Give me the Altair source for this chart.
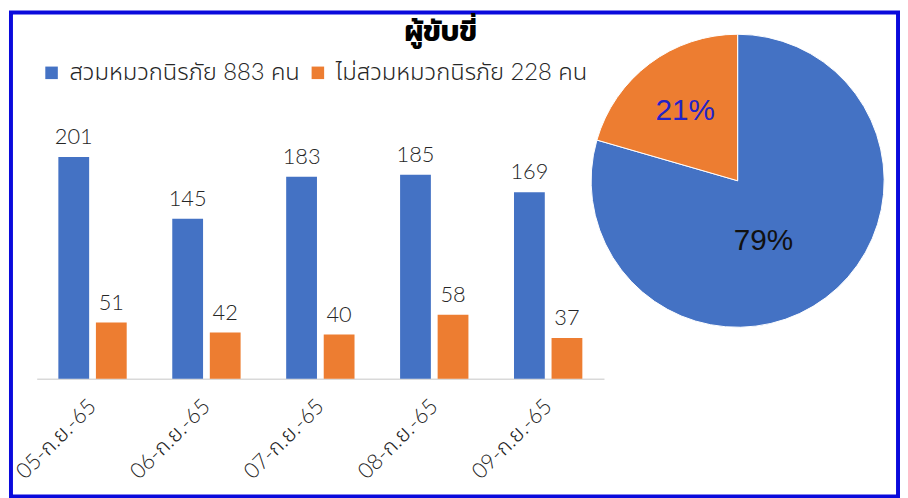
import altair as alt
import pandas as pd

# ---- data ----
dates = ["05-ก.ย.-65", "06-ก.ย.-65", "07-ก.ย.-65", "08-ก.ย.-65", "09-ก.ย.-65"]
helmet = [201, 145, 183, 185, 169]
no_helmet = [51, 42, 40, 58, 37]
series = ["สวมหมวกนิรภัย 883 คน", "ไม่สวมหมวกนิรภัย 228 คน"]
pie_values = [883, 228]
chart_title = "ผู้ขับขี่"

colors = ["#4472C4", "#ED7D31"]
FONT = "Kanit, 'Noto Sans Thai', Lato, 'Noto Sans', sans-serif"
NUMFONT = "Lato, 'Noto Sans Thai', sans-serif"

rows = []
for d, a, b in zip(dates, helmet, no_helmet):
    rows.append({"date": d, "series": series[0], "value": a})
    rows.append({"date": d, "series": series[1], "value": b})
bars_df = pd.DataFrame(rows)
pie_df = pd.DataFrame({"series": series, "value": pie_values, "idx": [0, 1]})

W, H = 896, 489
BASE = 370
PIE_CX, PIE_CY, PIE_R = 734, 170, 148

color = alt.Color(
    "series:N",
    scale=alt.Scale(domain=series, range=colors),
    legend=alt.Legend(
        orient="none", legendX=29, legendY=49, direction="horizontal",
        title=None, symbolType="square", symbolSize=160, symbolStrokeWidth=0,
        labelFontSize=24, labelFont=NUMFONT, labelFontWeight=300, labelColor="#262626",
        labelLimit=0, columnPadding=6, labelOffset=6,
    ),
)

x = alt.X(
    "date:N", sort=dates, title=None,
    scale=alt.Scale(range=[26, 599], paddingInner=0.4, paddingOuter=0.19),
    axis=alt.Axis(
        labelAngle=-45, labelAlign="right", labelBaseline="middle",
        labelFontSize=22, labelFont=NUMFONT, labelFontWeight=300, labelColor="#262626",
        labelPadding=24, ticks=False, domainColor="#D9D9D9", domainWidth=1.5,
        offset=-(H - BASE), labelLimit=0,
    ),
)
xoff = alt.XOffset("series:N", sort=series,
                   scale=alt.Scale(domain=series, paddingInner=0.18, paddingOuter=0))
y = alt.Y("value:Q", scale=alt.Scale(domain=[0, 332], range=[BASE, 0]), axis=None)

bars = alt.Chart(bars_df).mark_bar().encode(x=x, xOffset=xoff, y=y, color=color)
bar_labels = alt.Chart(bars_df).mark_text(
    baseline="bottom", dy=-8, fontSize=22, font=NUMFONT, fontWeight=300, color="#262626"
).encode(x=x, xOffset=xoff, y=y, text="value:Q")

pie = alt.Chart(pie_df).mark_arc(outerRadius=PIE_R, stroke="white", strokeWidth=1).encode(
    theta=alt.Theta("value:Q", stack=True),
    color=color,
    order=alt.Order("idx:Q"),
    x=alt.value(PIE_CX), y=alt.value(PIE_CY),
)

pie_text_base = alt.Chart(pie_df).transform_joinaggregate(
    total="sum(value)"
).transform_window(
    cum="sum(value)", sort=[alt.SortField("idx")]
).transform_calculate(
    mid="datum.cum - datum.value / 2", pct="datum.value / datum.total"
)

pie_text_orange = pie_text_base.transform_filter("datum.idx == 1").mark_text(
    radius=88, fontSize=30, font="Liberation Sans", color="#2323C8"
).encode(theta=alt.Theta("mid:Q"), text=alt.Text("pct:Q", format=".0%"),
         x=alt.value(PIE_CX), y=alt.value(PIE_CY))

pie_text_blue = pie_text_base.transform_filter("datum.idx == 0").mark_text(
    radius=66, thetaOffset=0.24, fontSize=30, font="Liberation Sans", color="#111111"
).encode(theta=alt.Theta("mid:Q"), text=alt.Text("pct:Q", format=".0%"),
         x=alt.value(PIE_CX), y=alt.value(PIE_CY))

chart = alt.layer(bars, bar_labels, pie, pie_text_orange, pie_text_blue).properties(
    width=W, height=H,
    title=alt.TitleParams(chart_title, font=FONT, fontSize=29, fontWeight="bold",
                          color="#000000", offset=-35, dx=-14, anchor="middle"),
    autosize=alt.AutoSizeParams(type="none"),
    padding={"left": 3, "top": 2, "right": 2, "bottom": 2},
).configure_view(
    stroke="#0A0ADC", strokeWidth=4
)

chart.save("out.html", embed_options={"renderer": "svg", "actions": False})
